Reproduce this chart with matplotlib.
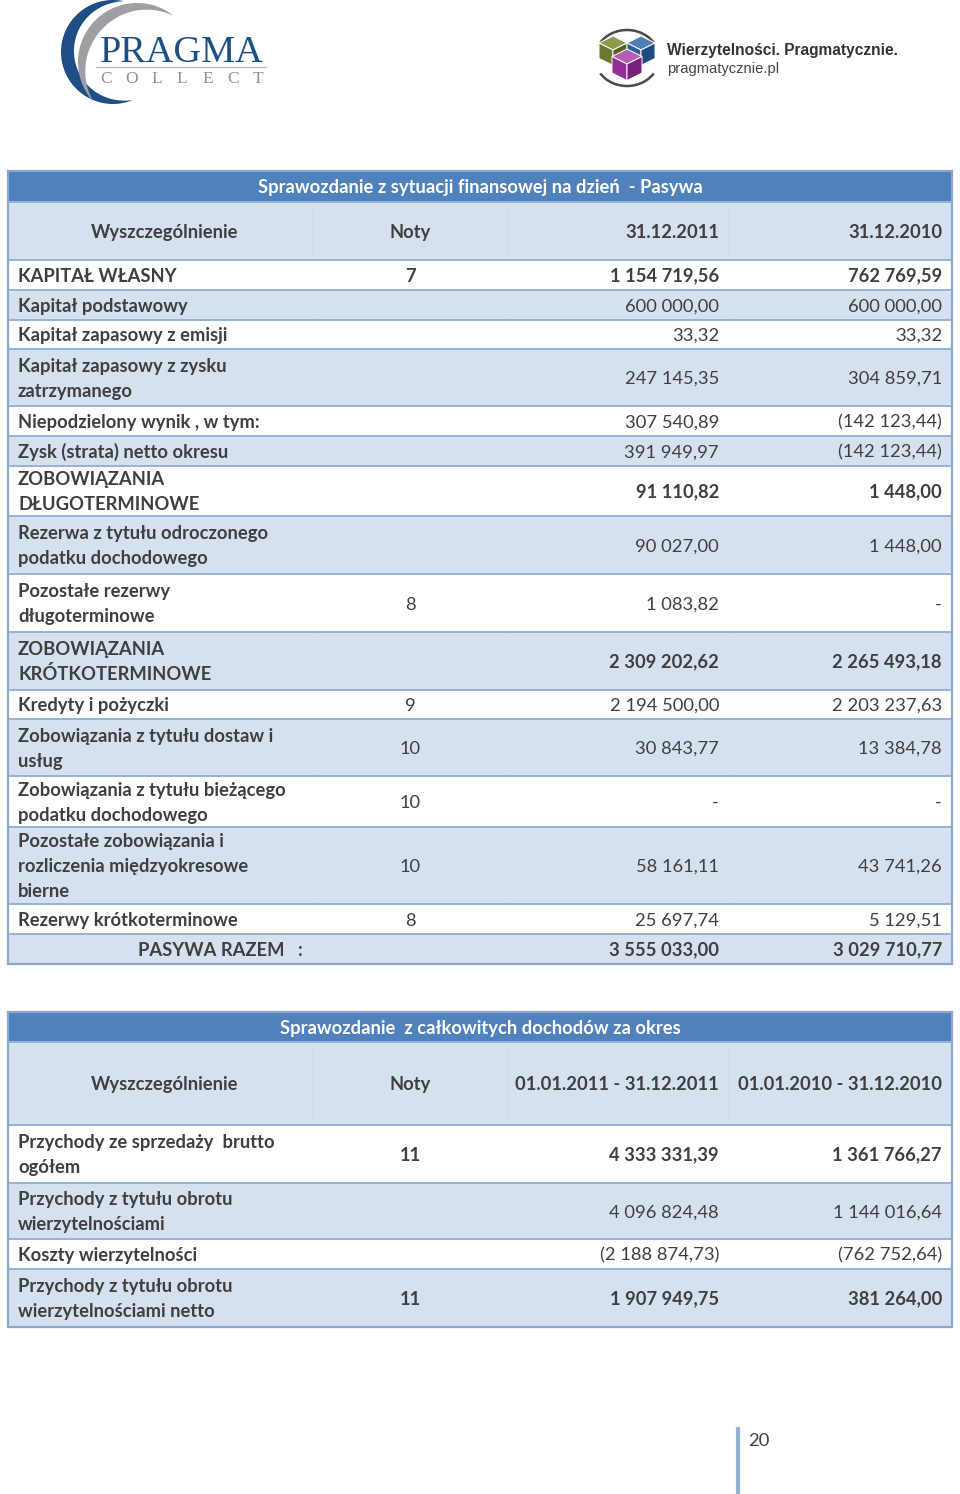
import numpy as np
import matplotlib
matplotlib.use("Agg")
import matplotlib.pyplot as plt
from matplotlib.patches import Rectangle, Polygon, Arc

plt.rcParams['font.family'] = ['Lato', 'DejaVu Sans']

# ---- data: table 1 (Pasywa)
pas_title = "Sprawozdanie z sytuacji finansowej na dzień  - Pasywa"
pas_header = ["Wyszczególnienie", "Noty", "31.12.2011", "31.12.2010"]
pas_labels = [
    "KAPITAŁ WŁASNY",
    "Kapitał podstawowy",
    "Kapitał zapasowy z emisji",
    "Kapitał zapasowy z zysku\nzatrzymanego",
    "Niepodzielony wynik , w tym:",
    "Zysk (strata) netto okresu",
    "ZOBOWIĄZANIA\nDŁUGOTERMINOWE",
    "Rezerwa z tytułu odroczonego\npodatku dochodowego",
    "Pozostałe rezerwy\ndługoterminowe",
    "ZOBOWIĄZANIA\nKRÓTKOTERMINOWE",
    "Kredyty i pożyczki",
    "Zobowiązania z tytułu dostaw i\nusług",
    "Zobowiązania z tytułu bieżącego\npodatku dochodowego",
    "Pozostałe zobowiązania i\nrozliczenia międzyokresowe\nbierne",
    "Rezerwy krótkoterminowe",
    "PASYWA RAZEM   :",
]
pas_notes = ["7", "", "", "", "", "", "", "", "8", "", "9", "10", "10", "10", "8", ""]
pas_2011 = ["1 154 719,56", "600 000,00", "33,32", "247 145,35", "307 540,89",
            "391 949,97", "91 110,82", "90 027,00", "1 083,82", "2 309 202,62",
            "2 194 500,00", "30 843,77", "-", "58 161,11", "25 697,74", "3 555 033,00"]
pas_2010 = ["762 769,59", "600 000,00", "33,32", "304 859,71", "(142 123,44)",
            "(142 123,44)", "1 448,00", "1 448,00", "-", "2 265 493,18",
            "2 203 237,63", "13 384,78", "-", "43 741,26", "5 129,51", "3 029 710,77"]
pas_bold = [1, 0, 0, 0, 0, 0, 1, 0, 0, 1, 0, 0, 0, 0, 0, 1]

# ---- data: table 2 (dochody)
doch_title = "Sprawozdanie  z całkowitych dochodów za okres"
doch_header = ["Wyszczególnienie", "Noty", "01.01.2011 - 31.12.2011", "01.01.2010 - 31.12.2010"]
doch_labels = [
    "Przychody ze sprzedaży  brutto\nogółem",
    "Przychody z tytułu obrotu\nwierzytelnościami",
    "Koszty wierzytelności",
    "Przychody z tytułu obrotu\nwierzytelnościami netto",
]
doch_notes = ["11", "", "", "11"]
doch_2011 = ["4 333 331,39", "4 096 824,48", "(2 188 874,73)", "1 907 949,75"]
doch_2010 = ["1 361 766,27", "1 144 016,64", "(762 752,64)", "381 264,00"]
doch_bold = [1, 0, 0, 1]

page_no = "20"

# ---- layout (pixels)
TX0, TX1 = 8, 952
COLS = [8, 312, 508, 728, 952]
pas_rows = [171, 202, 260, 290, 320, 349, 406, 436, 466, 516, 574, 632,
            690, 719, 776, 827, 904, 934, 964]
doch_rows = [1012, 1042, 1125, 1183, 1239, 1269, 1327]

TITLE_BG = "#4F81BD"
BAND = "#D6E1F0"
LINE = "#95B3D7"
BORDER = "#8AA7D0"
TXT = "#3F3F3F"
FS = 13.2
LH = 25

fig = plt.figure(figsize=(9.6, 14.94), dpi=100)
ax = fig.add_axes([0, 0, 1, 1])
ax.set_xlim(0, 960)
ax.set_ylim(1494, 0)
ax.axis("off")


def put(x, yc, s, ha="left", bold=False, color=TXT, fs=FS):
    lines = s.split("\n")
    n = len(lines)
    for i, ln in enumerate(lines):
        yb = yc + 6.6 + (i - (n - 1) / 2) * LH
        ax.text(x, yb, ln, ha=ha, va="baseline", fontsize=fs, color=color,
                fontweight="bold" if bold else "normal")


def table(title, header, labels, notes, v1, v2, bold, rows, total_right=False):
    # title bar
    ax.add_patch(Rectangle((TX0, rows[0]), TX1 - TX0, rows[1] - rows[0],
                           facecolor=TITLE_BG, edgecolor="none", zorder=1))
    put((TX0 + TX1) / 2, (rows[0] + rows[1]) / 2, title, ha="center",
        bold=True, color="white")
    # header
    ax.add_patch(Rectangle((TX0, rows[1]), TX1 - TX0, rows[2] - rows[1],
                           facecolor=BAND, edgecolor="none", zorder=1))
    hc = (rows[1] + rows[2]) / 2
    put((COLS[0] + COLS[1]) / 2 + 5, hc, header[0], ha="center", bold=True)
    put((COLS[1] + COLS[2]) / 2, hc, header[1], ha="center", bold=True)
    put(COLS[3] - 9, hc, header[2], ha="right", bold=True)
    put(COLS[4] - 10, hc, header[3], ha="right", bold=True)
    for c in COLS[1:4]:
        ax.plot([c, c], [rows[1], rows[2]], color="#CFDAEA", lw=0.5, zorder=2)
    # body rows
    for i, lab in enumerate(labels):
        y0, y1 = rows[i + 2], rows[i + 3]
        yc = (y0 + y1) / 2
        fc = "white" if i % 2 == 0 else BAND
        ax.add_patch(Rectangle((TX0, y0), TX1 - TX0, y1 - y0,
                               facecolor=fc, edgecolor="none", zorder=1))
        b = bool(bold[i])
        if total_right and i == len(labels) - 1:
            put(COLS[1] - 9, yc, lab, ha="right", bold=True)
        else:
            put(18, yc, lab, bold=True)
        if notes[i]:
            put((COLS[1] + COLS[2]) / 2, yc, notes[i], ha="center", bold=b)
        put(COLS[3] - 9, yc, v1[i], ha="right", bold=b)
        put(COLS[4] - 10, yc, v2[i], ha="right", bold=b)
        if fc != "white":
            for c in COLS[1:4]:
                ax.plot([c, c], [y0, y1], color="#D2DCEC", lw=0.4, zorder=2)
    # horizontal rules
    for y in rows[1:-1]:
        ax.plot([TX0, TX1], [y, y], color=LINE, lw=1.4, zorder=3)
    # outer border
    ax.add_patch(Rectangle((TX0, rows[0]), TX1 - TX0, rows[-1] - rows[0],
                           facecolor="none", edgecolor=BORDER, lw=1.6, zorder=4))


table(pas_title, pas_header, pas_labels, pas_notes, pas_2011, pas_2010,
      pas_bold, pas_rows, total_right=True)
table(doch_title, doch_header, doch_labels, doch_notes, doch_2011, doch_2010,
      doch_bold, doch_rows)


# ---- logos
def crescent(cx, cy, r, t0, t1, w, color):
    th = np.radians(np.linspace(t0, t1, 120))
    thick = w * np.sin(np.pi * (th - th[0]) / (th[-1] - th[0])) ** 0.9
    outer = np.c_[cx + r * np.cos(th), cy - r * np.sin(th)]
    ri = r - thick
    inner = np.c_[cx + ri * np.cos(th), cy - ri * np.sin(th)][::-1]
    ax.add_patch(Polygon(np.r_[outer, inner], closed=True, facecolor=color,
                         edgecolor="none", zorder=5))


crescent(113, 52, 52, 78, 292, 13, "#1F4E87")
crescent(137, 62, 59, 52, 222, 11, "#9D9FA2")
ax.text(100, 62, "PRAGMA", fontsize=27.5, color="#1F4E87",
        family=["Liberation Serif", "DejaVu Serif"], va="baseline", ha="left", zorder=6)
ax.plot([96, 266], [66.5, 66.5], color="#B5B7BA", lw=0.8, zorder=6)
for ch, x in zip("COLLECT", np.linspace(106, 258, 7)):
    ax.text(x, 83, ch, fontsize=12.5, color="#8E9094", ha="center", va="baseline",
            family=["Liberation Serif", "DejaVu Serif"], zorder=6)


def cube(cx, cy, s, top, left, right):
    # isometric box: (cx, cy) is the front top corner
    h = s * 0.5
    ax.add_patch(Polygon([[cx, cy - 2 * h], [cx + s, cy - h], [cx, cy], [cx - s, cy - h]],
                         closed=True, fc=top, ec="white", lw=0.7, zorder=7))
    ax.add_patch(Polygon([[cx - s, cy - h], [cx, cy], [cx, cy + s * 1.1],
                          [cx - s, cy + s * 1.1 - h]],
                         closed=True, fc=left, ec="white", lw=0.7, zorder=7))
    ax.add_patch(Polygon([[cx, cy], [cx + s, cy - h], [cx + s, cy + s * 1.1 - h],
                          [cx, cy + s * 1.1]],
                         closed=True, fc=right, ec="white", lw=0.7, zorder=7))


ax.add_patch(Arc((627, 58), 64, 56, theta1=30, theta2=150, color="#4A4A4A", lw=1.8, zorder=6))
ax.add_patch(Arc((627, 58), 64, 56, theta1=210, theta2=330, color="#4A4A4A", lw=1.8, zorder=6))
cube(613, 50, 14, "#8C9A4E", "#6B7A30", "#55631F")
cube(641, 50, 14, "#4F80B5", "#2D5F96", "#1F4C80")
cube(627, 64, 15, "#B65DB8", "#912F94", "#78217C")

ax.text(667, 55, "Wierzytelności. Pragmatycznie.", fontsize=11.2, fontweight="bold",
        color="#333333", family=["Liberation Sans", "DejaVu Sans"], va="baseline", zorder=6)
ax.text(667, 73, "pragmatycznie.pl", fontsize=10.6, color="#444444",
        family=["Liberation Sans", "DejaVu Sans"], va="baseline", zorder=6)

# ---- page number
ax.plot([738, 738], [1427, 1494], color="#95B3D7", lw=3, solid_capstyle="butt")
ax.text(748, 1446, page_no, fontsize=FS, color=TXT, va="baseline", ha="left")

fig.savefig("out.png", dpi=100)
